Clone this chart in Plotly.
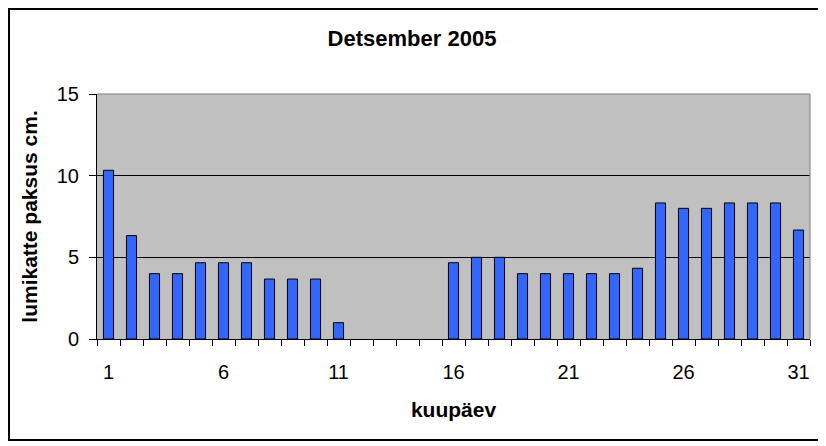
import plotly.graph_objects as go

# snow depth, December 2005
days = list(range(1, 32))
depth_cm = [10.33, 6.33, 4, 4, 4.67, 4.67, 4.67, 3.67, 3.67, 3.67,
            1, 0, 0, 0, 0, 4.67, 5, 5, 4, 4,
            4, 4, 4, 4.33, 8.33, 8, 8, 8.33, 8.33, 8.33,
            6.67]
label_days = [1, 6, 11, 16, 21, 26, 31]
y_ticks = [0, 5, 10, 15]

font = "Arial, Liberation Sans, sans-serif"

# the page body adds 8px around the figure, so the figure is 8px smaller
W, H = 818, 438

fig = go.Figure(go.Bar(
    x=days, y=depth_cm,
    marker=dict(color="#3366FF",
                line=dict(color="black",
                          width=[1 if v > 0 else 0 for v in depth_cm])),
))

fig.update_layout(
    width=W, height=H,
    margin=dict(l=89, r=16, t=86, b=107),
    paper_bgcolor="white",
    plot_bgcolor="#C0C0C0",
    bargap=0.56,
    showlegend=False,
    font=dict(family=font, color="black", size=20),
    # title is centred on the whole chart frame, not on the plot area
    title=dict(text="<b>Detsember 2005</b>", x=404 / W, xref="container",
               xanchor="center",
               y=1 - 30 / H, yref="container", yanchor="middle",
               font=dict(size=22)),
)

fig.update_xaxes(
    range=[0.5, 31.5],
    tickvals=label_days, ticks="", ticklabelstandoff=15,
    showgrid=False, zeroline=False,
    showline=True, linecolor="black", linewidth=1,
    minor=dict(tick0=0.5, dtick=1, ticks="outside", ticklen=6,
               tickcolor="black", showgrid=False),
    title=dict(text="<b>kuupäev</b>", font=dict(size=21), standoff=20),
)
fig.update_yaxes(
    range=[0, 15], tickvals=y_ticks,
    ticks="outside", ticklen=7, tickcolor="black",
    showgrid=True, gridcolor="black", gridwidth=1,
    zeroline=False, showline=True, linecolor="black", linewidth=1,
    ticklabelstandoff=6,
    title=dict(text="<b>lumikatte paksus cm.</b>", font=dict(size=21), standoff=13),
)

# grey top/right edges of the plot area
fig.add_shape(type="line", xref="paper", yref="paper", x0=0, x1=1, y0=1, y1=1,
              line=dict(color="#808080", width=1))
fig.add_shape(type="line", xref="paper", yref="paper", x0=1, x1=1, y0=0, y1=1,
              line=dict(color="#808080", width=1))
# outer chart frame
fig.add_shape(type="rect", xref="paper", yref="paper",
              x0=-0.1234, x1=1.014, y0=-0.412, y1=1.347,
              line=dict(color="black", width=2))

fig.write_html("out.html")
